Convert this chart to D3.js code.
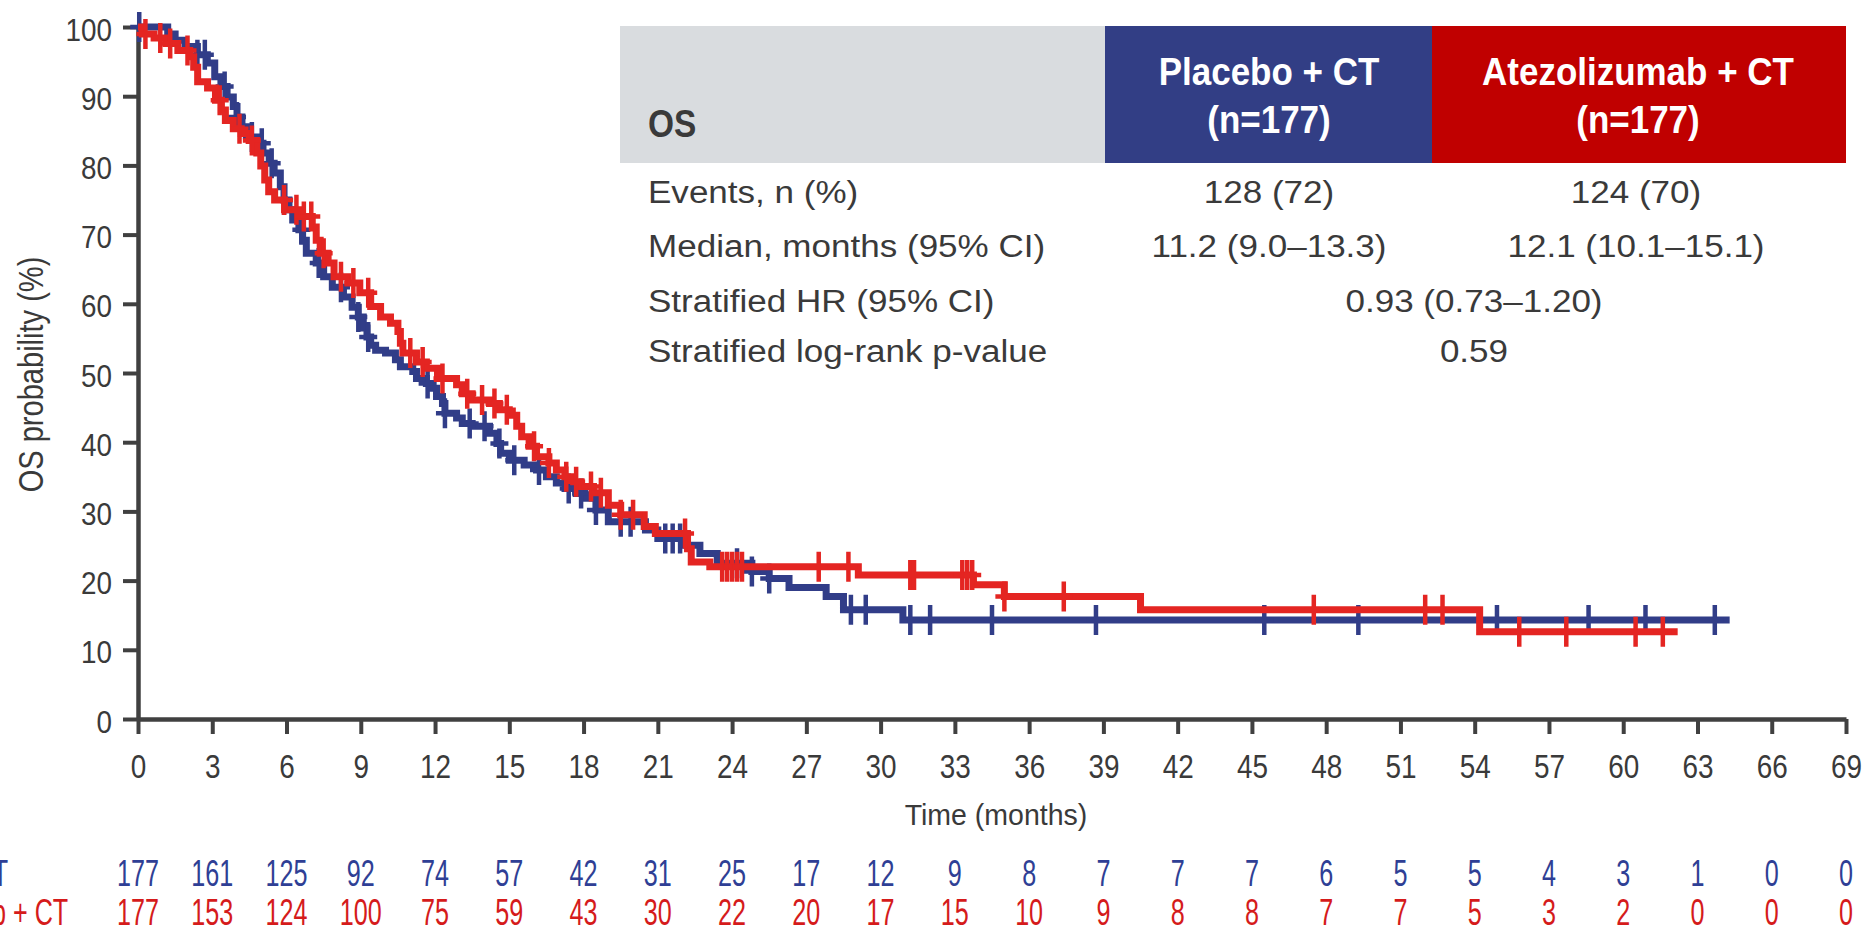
<!DOCTYPE html>
<html><head><meta charset="utf-8">
<script src="https://cdn.jsdelivr.net/npm/d3@7"></script>
<style>
html,body{margin:0;padding:0;background:#fff;}
svg{display:block;}
</style></head><body>
<svg id="chart" width="1865" height="929"></svg>
<script>
// ---------------- DATA ----------------
const xTicks = [0,3,6,9,12,15,18,21,24,27,30,33,36,39,42,45,48,51,54,57,60,63,66,69];
const yTicks = [0,10,20,30,40,50,60,70,80,90,100];

// Placebo + CT Kaplan-Meier steps (time in months, survival %)
const placeboTimes = [0,1.2,1.5,1.9,2.4,2.8,3.1,3.35,3.6,3.85,4.0,4.2,4.5,4.8,5.05,5.3,5.5,5.75,5.9,6.1,6.25,6.5,6.65,6.8,7.2,7.5,7.85,8.3,8.65,8.9,9.1,9.25,9.4,9.6,10.0,10.4,10.6,11.1,11.25,11.65,11.9,12.06,12.3,12.4,12.87,13.1,13.5,14.2,14.5,14.65,15.0,15.6,16.1,16.5,16.9,17.25,17.7,18.05,18.5,19.0,20.5,21.0,22.0,22.7,23.4,24.8,25.5,26.3,27.8,28.5,30.9];
const placeboSurv  = [100,99.0,98.1,97.2,96.0,94.8,92.8,91.4,89.9,88.5,87.0,85.6,84.1,83.2,81.8,80.3,78.9,76.9,75.0,73.6,72.1,70.7,69.2,67.3,65.9,63.9,62.4,61.0,59.5,58.1,56.5,55.2,54.0,53.3,52.9,51.9,50.9,50.2,49.2,48.5,47.8,46.6,45.6,44.2,43.5,42.7,42.3,41.3,39.8,38.4,37.4,36.7,36.0,35.0,34.1,33.3,32.6,31.9,30.2,28.5,27.3,26.1,25.1,23.9,22.5,21.3,20.3,19.0,17.7,15.8,14.3];
const placeboEnd = 64.3;
const placeboCensor = [0.05,2.4,2.7,3.5,4.0,4.6,5.0,5.4,5.9,6.6,7.3,8.2,8.9,9.3,11.7,12.4,13.4,14.0,14.6,15.2,16.2,17.4,17.9,18.5,19.5,19.9,21.3,21.6,21.9,24.2,24.8,25.5,28.8,29.4,31.2,32.0,34.5,38.7,45.5,49.3,54.9,58.6,60.9,63.7];

// Atezolizumab + CT Kaplan-Meier steps
const atezoTimes = [0,0.17,0.65,1.13,1.61,2.09,2.25,2.41,2.81,3.13,3.37,3.53,3.85,4.17,4.49,4.8,4.96,5.12,5.28,5.52,5.92,6.56,7.04,7.2,7.36,7.68,7.92,8.48,8.96,9.4,9.8,10.2,10.5,10.6,10.7,11.25,11.65,12.1,12.87,13.1,13.5,14.2,14.6,15.0,15.3,15.5,15.8,16.1,16.6,16.9,17.25,17.6,17.9,18.4,19.0,19.5,20.45,20.9,22.2,22.35,23.1,29.1,33.75,35.0,40.5,54.2];
const atezoSurv  = [100,99.0,98.4,97.6,96.6,95.7,94.2,92.1,91.2,89.4,88.0,86.5,85.3,84.6,83.6,81.8,79.9,77.9,76.2,75.0,73.6,72.6,71.1,69.2,67.3,65.9,63.9,63.0,61.6,59.6,58.1,57.2,56.0,54.3,52.9,51.6,50.7,49.2,48.3,47.0,46.1,45.6,44.7,43.9,42.3,40.8,39.4,37.9,37.0,36.0,35.0,34.3,33.6,32.7,30.9,29.5,27.8,26.8,24.6,22.7,22.0,20.8,19.4,17.7,15.8,12.6];
const atezoEnd = 62.2;
const atezoCensor = [0.3,0.9,1.3,2.0,3.3,4.1,4.6,5.9,6.4,6.7,7.0,7.5,8.2,8.7,9.3,11.0,11.5,12.3,13.3,13.9,14.4,14.9,16.0,16.6,17.3,17.7,18.3,18.7,19.5,20.0,22.1,23.6,23.8,24.0,24.2,24.4,27.5,28.7,31.2,31.35,33.3,33.5,33.7,35.0,37.4,47.5,52.0,52.7,55.8,57.7,60.5,61.6];

// Number at risk
const riskTimes   = [0,3,6,9,12,15,18,21,24,27,30,33,36,39,42,45,48,51,54,57,60,63,66,69];
const riskPlacebo = [177,161,125,92,74,57,42,31,25,17,12,9,8,7,7,7,6,5,5,4,3,1,0,0];
const riskAtezo   = [177,153,124,100,75,59,43,30,22,20,17,15,10,9,8,8,7,7,5,3,2,0,0,0];
const armLabels   = ["Placebo + CT", "Atezolizumab + CT"];

// Summary table
const tableTitle   = "OS";
const headPlacebo  = ["Placebo + CT", "(n=177)"];
const headAtezo    = ["Atezolizumab + CT", "(n=177)"];
const rowLabels    = ["Events, n (%)", "Median, months (95% CI)", "Stratified HR (95% CI)", "Stratified log-rank p-value"];
const placeboVals  = ["128 (72)", "11.2 (9.0\u201313.3)"];
const atezoVals    = ["124 (70)", "12.1 (10.1\u201315.1)"];
const sharedVals   = ["0.93 (0.73\u20131.20)", "0.59"];

const yTitle = "OS probability (%)";
const xTitle = "Time (months)";

// ---------------- STYLE ----------------
const FONT = '"Liberation Sans", Arial, Helvetica, sans-serif';
const axisColor = '#404040';
const textColor = '#3a3a3a';
const blueLine = '#313D88';
const redLine = '#E42522';
const blueText = '#2F3F95';
const redText = '#D51B1B';

function squeeze(sel, f) {
  sel.each(function () {
    const w = this.getComputedTextLength();
    if (w > 0) {
      this.setAttribute('textLength', (w * f).toFixed(2));
      this.setAttribute('lengthAdjust', 'spacingAndGlyphs');
    }
  });
}

const svg = d3.select('#chart');
svg.append('rect').attr('width', 1865).attr('height', 929).attr('fill', '#fff');

const x = d3.scaleLinear().domain([0, 69]).range([138, 1846]);
const y = d3.scaleLinear().domain([0, 100]).range([719, 27]);

// ---------------- SUMMARY TABLE ----------------
const tbl = svg.append('g').attr('font-family', FONT);
tbl.append('rect').attr('x', 620).attr('y', 26).attr('width', 485).attr('height', 137).attr('fill', '#D9DCDF');
tbl.append('rect').attr('x', 1105).attr('y', 26).attr('width', 327).attr('height', 137).attr('fill', '#323E85');
tbl.append('rect').attr('x', 1432).attr('y', 26).attr('width', 414).attr('height', 137).attr('fill', '#C00000');

const osT = tbl.append('text').attr('x', 648).attr('y', 137).attr('font-size', 38).attr('font-weight', 'bold')
  .attr('fill', textColor).text(tableTitle);
squeeze(osT, 0.88);

const headY = [85, 133];
const hp = tbl.selectAll('text.hp').data(headPlacebo).join('text').attr('class', 'hp')
  .attr('x', 1269).attr('y', (d, i) => headY[i]).attr('text-anchor', 'middle')
  .attr('font-size', 38).attr('font-weight', 'bold').attr('fill', '#fff').text(d => d);
squeeze(hp, 0.92);
const ha = tbl.selectAll('text.ha').data(headAtezo).join('text').attr('class', 'ha')
  .attr('x', 1638).attr('y', (d, i) => headY[i]).attr('text-anchor', 'middle')
  .attr('font-size', 38).attr('font-weight', 'bold').attr('fill', '#fff').text(d => d);
squeeze(ha, 0.92);

const rowY = [203, 257, 312, 362];
const bodySize = 31, bodyF = 1.13;
const rl = tbl.selectAll('text.rl').data(rowLabels).join('text').attr('class', 'rl')
  .attr('x', 648).attr('y', (d, i) => rowY[i]).attr('font-size', bodySize).attr('fill', textColor).text(d => d);
squeeze(rl, bodyF);
const pv = tbl.selectAll('text.pv').data(placeboVals).join('text').attr('class', 'pv')
  .attr('x', 1269).attr('y', (d, i) => rowY[i]).attr('text-anchor', 'middle').attr('font-size', bodySize).attr('fill', textColor).text(d => d);
squeeze(pv, bodyF);
const av = tbl.selectAll('text.av').data(atezoVals).join('text').attr('class', 'av')
  .attr('x', 1636).attr('y', (d, i) => rowY[i]).attr('text-anchor', 'middle').attr('font-size', bodySize).attr('fill', textColor).text(d => d);
squeeze(av, bodyF);
const sv = tbl.selectAll('text.sv').data(sharedVals).join('text').attr('class', 'sv')
  .attr('x', 1474).attr('y', (d, i) => rowY[i + 2]).attr('text-anchor', 'middle').attr('font-size', bodySize).attr('fill', textColor).text(d => d);
squeeze(sv, bodyF);

// ---------------- AXES ----------------
const yAxisG = svg.append('g').attr('transform', 'translate(138,0)')
  .call(d3.axisLeft(y).tickValues(yTicks).tickSize(15).tickSizeOuter(0).tickPadding(11).tickFormat(d3.format('d')));
yAxisG.attr('font-family', FONT).attr('font-size', 32);
yAxisG.select('.domain').attr('stroke', axisColor).attr('stroke-width', 4.5);
yAxisG.selectAll('.tick line').attr('stroke', axisColor).attr('stroke-width', 4);
yAxisG.selectAll('.tick text').attr('fill', textColor).attr('dy', '0.41em');
squeeze(yAxisG.selectAll('.tick text'), 0.87);

const xAxisG = svg.append('g').attr('transform', 'translate(0,719)')
  .call(d3.axisBottom(x).tickValues(xTicks).tickSize(15).tickSizeOuter(0).tickFormat(d3.format('d')));
xAxisG.attr('font-family', FONT).attr('font-size', 34);
xAxisG.select('.domain').attr('stroke', axisColor).attr('stroke-width', 4.5);
xAxisG.selectAll('.tick line').attr('stroke', axisColor).attr('stroke-width', 4);
xAxisG.selectAll('.tick text').attr('fill', textColor).attr('y', 59).attr('dy', '0');
squeeze(xAxisG.selectAll('.tick text'), 0.82);

const yt = svg.append('text').attr('transform', 'translate(43,374.5) rotate(-90)')
  .attr('text-anchor', 'middle').attr('font-family', FONT).attr('font-size', 35).attr('fill', textColor).text(yTitle);
squeeze(yt, 0.83);

const xt = svg.append('text').attr('x', 996).attr('y', 825).attr('text-anchor', 'middle')
  .attr('font-family', FONT).attr('font-size', 30).attr('fill', textColor).text(xTitle);
squeeze(xt, 0.95);

// ---------------- CURVES ----------------
const line = d3.line().x(d => x(d[0])).y(d => y(d[1])).curve(d3.curveStepAfter);

function drawArm(times, surv, end, censor, color) {
  const pts = times.map((t, i) => [t, surv[i]]);
  pts.push([end, surv[surv.length - 1]]);
  const g = svg.append('g');
  g.append('path').attr('d', line(pts)).attr('fill', 'none').attr('stroke', color)
    .attr('stroke-width', 7).attr('stroke-linejoin', 'miter');
  const survAt = t => { let v = surv[0]; for (let i = 0; i < times.length; i++) { if (times[i] <= t) v = surv[i]; } return v; };
  g.selectAll('path.c').data(censor).join('path').attr('class', 'c')
    .attr('d', t => { const cx = x(t), cy = y(survAt(t)); return `M${cx},${cy - 15}V${cy + 15}M${cx - 9},${cy}H${cx + 9}`; })
    .attr('stroke', color).attr('stroke-width', 4.5).attr('fill', 'none');
}
drawArm(placeboTimes, placeboSurv, placeboEnd, placeboCensor, blueLine);
drawArm(atezoTimes, atezoSurv, atezoEnd, atezoCensor, redLine);

// ---------------- NUMBER AT RISK ----------------
const riskY = [886, 925];
const riskG = svg.append('g').attr('font-family', FONT).attr('font-size', 37);
[riskPlacebo, riskAtezo].forEach((vals, k) => {
  const col = k === 0 ? blueText : redText;
  const t = riskG.selectAll('text.r' + k).data(vals).join('text').attr('class', 'r' + k)
    .attr('x', (d, i) => x(riskTimes[i])).attr('y', riskY[k]).attr('text-anchor', 'middle')
    .attr('fill', col).text(d => d);
  squeeze(t, 0.68);
  const lab = riskG.append('text').attr('x', -145).attr('y', riskY[k]).attr('fill', col).text(armLabels[k]);
  squeeze(lab, 0.68);
});
</script>
</body></html>
